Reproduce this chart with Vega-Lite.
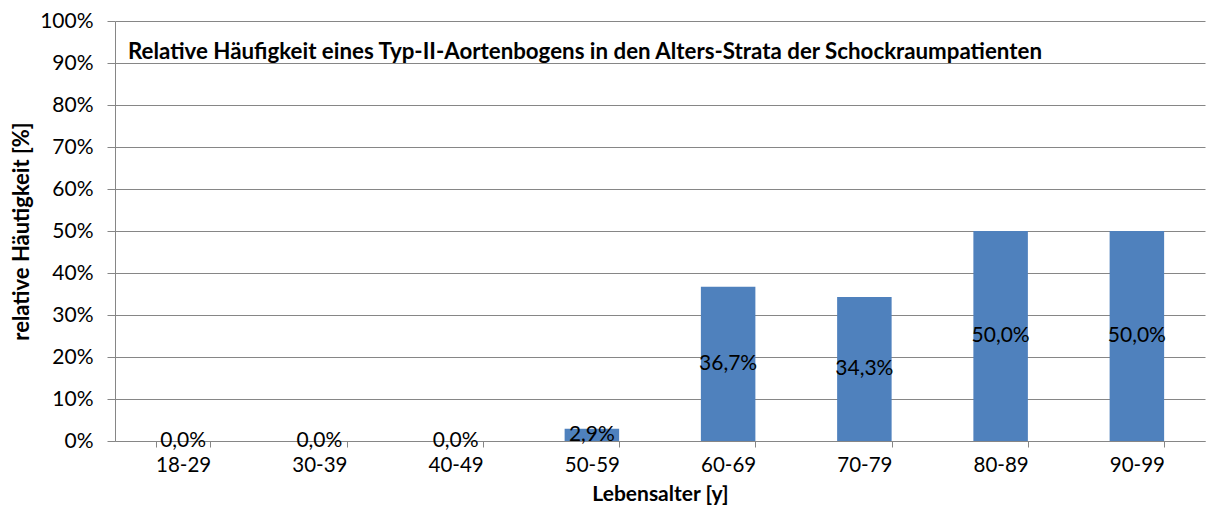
{
  "$schema": "https://vega.github.io/schema/vega-lite/v6.json",
  "width": 1090,
  "height": 420,
  "autosize": {"type": "none"},
  "padding": {"left": 115, "top": 21, "right": 1, "bottom": 71},
  "background": "white",
  "config": {
    "locale": {"number": {"decimal": ",", "thousands": ".", "grouping": [3], "currency": ["", " €"]}},
    "view": {"stroke": null},
    "font": "Lato"
  },
  "title": {
    "text": "Relative Häufigkeit eines Typ-II-Aortenbogens in den Alters-Strata der Schockraumpatienten",
    "anchor": "start",
    "frame": "group",
    "orient": "top",
    "offset": -53,
    "dx": 13,
    "font": "Lato",
    "fontSize": 22.3,
    "fontWeight": "bold",
    "color": "black"
  },
  "data": {
    "values": [
      {"alter": "18-29", "anteil": 0.0},
      {"alter": "30-39", "anteil": 0.0},
      {"alter": "40-49", "anteil": 0.0},
      {"alter": "50-59", "anteil": 0.029},
      {"alter": "60-69", "anteil": 0.367},
      {"alter": "70-79", "anteil": 0.343},
      {"alter": "80-89", "anteil": 0.5},
      {"alter": "90-99", "anteil": 0.5}
    ]
  },
  "encoding": {
    "x": {
      "field": "alter",
      "type": "nominal",
      "sort": null,
      "scale": {"paddingInner": 0.6, "paddingOuter": 0.3},
      "axis": {
        "title": "Lebensalter [y]",
        "titleFont": "Lato",
        "titleFontSize": 21,
        "titleFontWeight": "bold",
        "titleColor": "black",
        "titlePadding": 8,
        "labelAngle": 0,
        "labelFont": "Lato",
        "labelFontSize": 20.5,
        "labelColor": "black",
        "labelPadding": 8,
        "tickBand": "extent",
        "tickSize": 6,
        "tickColor": "#868686",
        "domainColor": "#868686",
        "grid": false
      }
    }
  },
  "layer": [
    {
      "mark": {"type": "bar", "color": "#4F81BD"},
      "encoding": {
        "y": {
          "field": "anteil",
          "type": "quantitative",
          "scale": {"domain": [0, 1], "nice": false},
          "axis": {
            "title": "relative Häutigkeit [%]",
            "titleFont": "Lato",
            "titleFontSize": 22,
            "titleFontWeight": "bold",
            "titleColor": "black",
            "titlePadding": 6,
            "format": ".0%",
            "values": [0, 0.1, 0.2, 0.3, 0.4, 0.5, 0.6, 0.7, 0.8, 0.9, 1],
            "labelFont": "Lato",
            "labelFontSize": 21,
            "labelColor": "black",
            "labelPadding": 14,
            "tickSize": 8,
            "tickColor": "#868686",
            "domainColor": "#868686",
            "gridColor": "#868686",
            "gridOpacity": 1
          }
        }
      }
    },
    {
      "mark": {"type": "text", "fontSize": 21, "font": "Lato", "color": "black", "baseline": "middle"},
      "encoding": {
        "y": {"field": "anteil", "type": "quantitative", "scale": {"domain": [0, 1], "nice": false}, "bandPosition": 0.5, "stack": true},
        "text": {"field": "anteil", "type": "quantitative", "format": ".1%"}
      }
    }
  ]
}
